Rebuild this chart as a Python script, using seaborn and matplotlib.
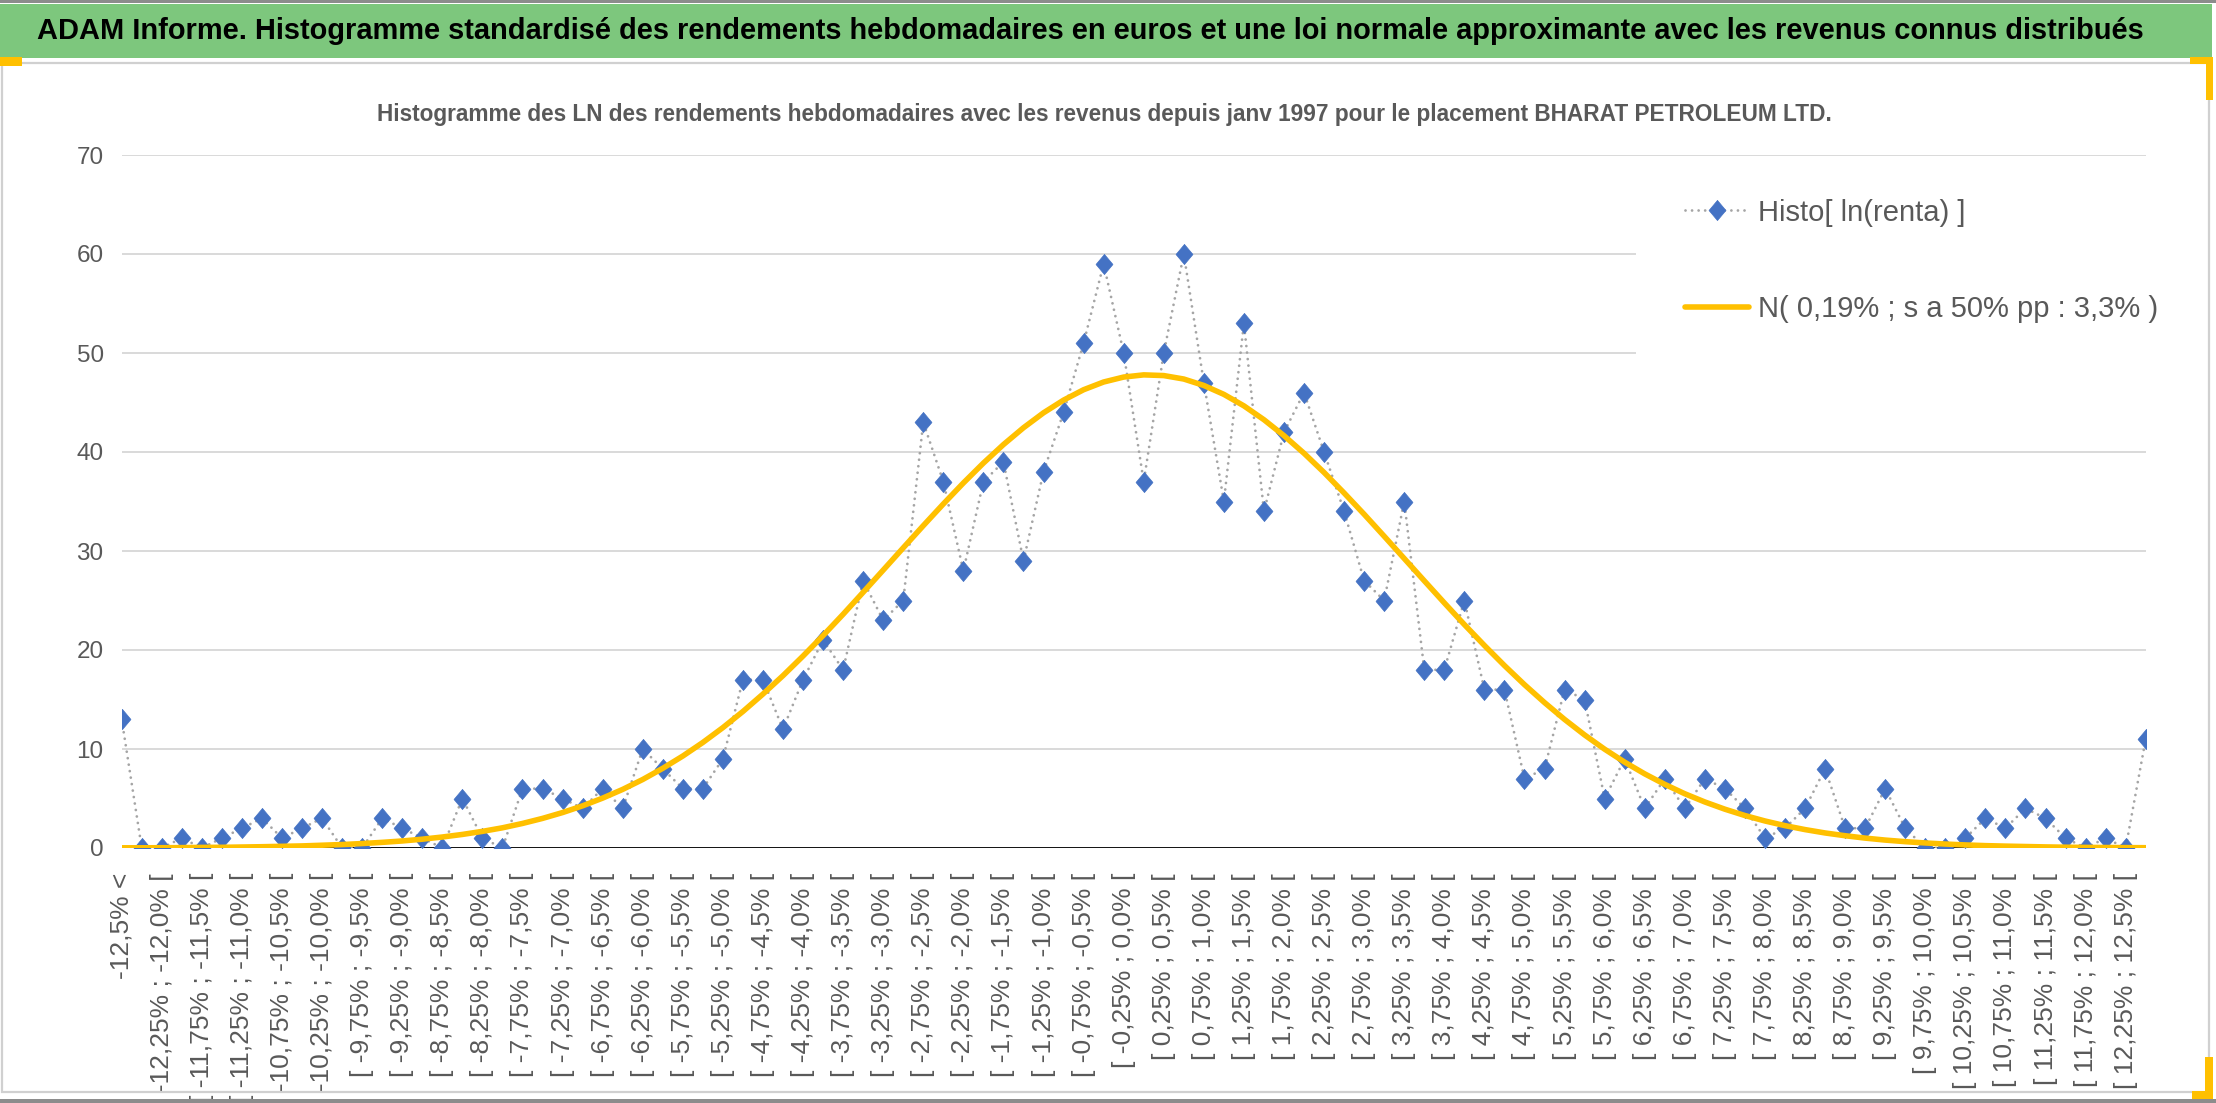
"""
plot.py
=======
Histogramme des LN des rendements hebdomadaires (BHARAT PETROLEUM LTD.)
with its approximating normal curve. Saves out.png (2216 x 1103).
"""

import matplotlib
matplotlib.use("Agg")
import matplotlib.pyplot as plt
from matplotlib.patches import Rectangle
import seaborn as sns
import pandas as pd

# ── Data ──────────────────────────────────────────────────────────────────────
BIN_LOW   = -12.5      # first bin edge, in %
BIN_STEP  = 0.25       # bin width, in %
N_BINS    = 100        # inner bins between -12,5% and 12,5%

HISTO = [13, 0, 0, 1, 0, 1, 2, 3, 1, 2,
         3, 0, 0, 3, 2, 1, 0, 5, 1, 0,
         6, 6, 5, 4, 6, 4, 10, 8, 6, 6,
         9, 17, 17, 12, 17, 21, 18, 27, 23, 25,
         43, 37, 28, 37, 39, 29, 38, 44, 51, 59,
         50, 37, 50, 60, 47, 35, 53, 34, 42, 46,
         40, 34, 27, 25, 35, 18, 18, 25, 16, 16,
         7, 8, 16, 15, 5, 9, 4, 7, 4, 7,
         6, 4, 1, 2, 4, 8, 2, 2, 6, 2,
         0, 0, 1, 3, 2, 4, 3, 1, 0, 1,
         0, 11]

NORMAL = [0.02, 0.02, 0.03, 0.04, 0.06, 0.07, 0.10, 0.13, 0.17, 0.21,
          0.28, 0.35, 0.45, 0.57, 0.71, 0.89, 1.11, 1.37, 1.68, 2.04,
          2.48, 2.99, 3.58, 4.26, 5.04, 5.92, 6.92, 8.05, 9.29, 10.66,
          12.16, 13.79, 15.55, 17.41, 19.39, 21.46, 23.61, 25.83, 28.07, 30.32,
          32.56, 34.75, 36.87, 38.88, 40.75, 42.45, 43.96, 45.24, 46.29, 47.07,
          47.57, 47.79, 47.72, 47.37, 46.72, 45.82, 44.66, 43.26, 41.65, 39.87,
          37.93, 35.86, 33.71, 31.49, 29.24, 26.99, 24.76, 22.57, 20.46, 18.43,
          16.50, 14.69, 12.99, 11.42, 9.98, 8.67, 7.49, 6.43, 5.48, 4.65,
          3.92, 3.28, 2.73, 2.26, 1.86, 1.52, 1.24, 1.00, 0.80, 0.64,
          0.51, 0.40, 0.31, 0.24, 0.19, 0.15, 0.11, 0.08, 0.06, 0.05,
          0.04, 0.03]

Y_TICKS = [0, 10, 20, 30, 40, 50, 60, 70]

TITLE    = ("ADAM Informe. Histogramme standardisé des rendements hebdomadaires "
            "en euros et une loi normale approximante avec les revenus connus distribués")
SUBTITLE = ("Histogramme des LN des rendements hebdomadaires avec les revenus "
            "depuis janv 1997 pour le placement BHARAT PETROLEUM LTD.")
LEG_HISTO  = "Histo[ ln(renta) ]"
LEG_NORMAL = "N( 0,19% ; s a 50% pp : 3,3% )"


def _pct(v):
    """-12.25 -> '-12,25%', -12.0 -> '-12,0%' (Excel style)."""
    s = f"{round(v, 2) + 0.0:.2f}"
    if s.endswith("0"):
        s = s[:-1]
    return s.replace(".", ",") + "%"


CATEGORIES = [_pct(BIN_LOW) + " <"]
for k in range(N_BINS):
    a = BIN_LOW + k * BIN_STEP
    CATEGORIES.append(f"[ {_pct(a)} ; {_pct(a + BIN_STEP)} [")
CATEGORIES.append(_pct(-BIN_LOW) + " >")

# ── Style ──────────────────────────────────────────────────────────────────────
W, H      = 2216, 1103
FONT      = "Liberation Sans"
TXT_GREY  = "#595959"
GRID      = "#d9d9d9"
BLUE      = "#4472c4"
DOT_GREY  = "#a5a5a5"
GOLD      = "#ffc000"
BANNER    = "#7dc77d"
DIAMOND   = [(0, 1), (0.84, 0), (0, -1), (-0.84, 0), (0, 1)]   # slightly tall
MARKER_SZ = 14.5

sns.set_style("white")
plt.rcParams["font.family"] = [FONT, "DejaVu Sans"]

df = pd.DataFrame({"pos": range(len(CATEGORIES)), "cat": CATEGORIES,
                   "histo": HISTO, "normal": NORMAL})

fig, ax = plt.subplots(figsize=(W / 100, H / 100), dpi=100)
fig.patch.set_facecolor("white")
fig.subplots_adjust(left=121.7 / W, right=2145.7 / W,
                    bottom=1 - 848 / H, top=1 - 155 / H)


def _px_rect(x0, y0, x1, y1, **kw):
    """Rectangle given in picture pixels (top-left origin)."""
    r = Rectangle((x0 / W, 1 - y1 / H), (x1 - x0) / W, (y1 - y0) / H,
                  transform=fig.transFigure, **kw)
    fig.patches.append(r)


# page decorations: banner, chart frame, selection handles
_px_rect(0, 0, W, 2.5, facecolor="#8c8c8c", edgecolor="none")
_px_rect(0, 4, W - 4, 58, facecolor=BANNER, edgecolor="none")
_px_rect(2, 63, 2209, 1092, facecolor="none", edgecolor="#d0d0d0", lw=1.6)
_px_rect(0, 1099, W, H, facecolor="#8c8c8c", edgecolor="none")
_px_rect(0, 57, 22, 66, facecolor=GOLD, edgecolor="none")
_px_rect(2190, 57, 2213, 64, facecolor=GOLD, edgecolor="none")
_px_rect(2206, 57, 2213, 100, facecolor=GOLD, edgecolor="none")
_px_rect(2205, 1057, 2213, 1099, facecolor=GOLD, edgecolor="none")
_px_rect(2192, 1091, 2213, 1099, facecolor=GOLD, edgecolor="none")

# ── Series ────────────────────────────────────────────────────────────────────
sns.lineplot(data=df, x="pos", y="histo", ax=ax, errorbar=None,
             color=DOT_GREY, linewidth=2.0, linestyle=(0, (0.01, 2.35)),
             dash_capstyle="round", marker=DIAMOND, markersize=MARKER_SZ,
             markerfacecolor=BLUE, markeredgecolor=BLUE, markeredgewidth=0.5,
             label=LEG_HISTO, zorder=3)
histo_line = ax.lines[-1]
sns.lineplot(data=df, x="pos", y="normal", ax=ax, errorbar=None,
             color=GOLD, linewidth=4.0, solid_capstyle="round",
             label=LEG_NORMAL, zorder=4)

# make sure the diamonds keep their size whatever seaborn defaults to
histo_line.set_marker(DIAMOND)
histo_line.set_markersize(MARKER_SZ)

ax.axhline(0, color="black", linewidth=2.0, zorder=1.6)

# ── Axes ──────────────────────────────────────────────────────────────────────
ax.set_xlim(0, len(CATEGORIES) - 1)
ax.set_ylim(Y_TICKS[0], Y_TICKS[-1])
ax.set_yticks(Y_TICKS)
ax.set_xticks(range(0, len(CATEGORIES), 2))
ax.set_xticklabels(CATEGORIES[::2], rotation=90)
ax.set_xticks(range(0, len(CATEGORIES), 4), minor=True)
ax.set_xlabel("")
ax.set_ylabel("")

ax.tick_params(axis="x", which="major", length=0, pad=18,
               labelsize=19, labelcolor=TXT_GREY)
ax.tick_params(axis="x", which="minor", bottom=True, length=16, width=2,
               direction="inout", color="black")
ax.tick_params(axis="y", length=0, pad=13, labelsize=17.5, labelcolor=TXT_GREY)

ax.set_axisbelow(True)
ax.grid(True, which="minor", axis="x", color=GRID, linewidth=1.4)
ax.grid(True, which="major", axis="y", color=GRID, linewidth=1.4)
ax.grid(False, which="major", axis="x")
for spine in ax.spines.values():
    spine.set_visible(False)

# ── Legend on a white card ────────────────────────────────────────────────────
ax.add_patch(Rectangle((0.748, 0.69), 0.252, 0.2956, transform=ax.transAxes,
                       facecolor="white", edgecolor="none", zorder=2.2))
leg = ax.legend(loc="upper left", bbox_to_anchor=(0.7724, 0.937),
                frameon=False, borderpad=0, borderaxespad=0,
                handlelength=2.2, handletextpad=0.3, labelspacing=2.35,
                prop={"family": FONT, "size": 21}, labelcolor=TXT_GREY)

# ── Titles ────────────────────────────────────────────────────────────────────
title = fig.text(1090 / W, 1 - 31 / H, TITLE, ha="center", va="center",
                 fontsize=20, fontweight="bold", color="black", family=FONT)
sub = fig.text(1104 / W, 1 - 115 / H, SUBTITLE, ha="center", va="center",
               fontsize=16, fontweight="bold", color=TXT_GREY, family=FONT)


def _fit_width(txt, width_px):
    """Scales a text's font size so that it spans width_px pixels."""
    fig.canvas.draw()
    w = txt.get_window_extent().width
    txt.set_fontsize(txt.get_fontsize() * width_px / w)


_fit_width(title, 2111)
_fit_width(sub, 1458)

fig.savefig("out.png", dpi=100, facecolor="white")
plt.close(fig)
